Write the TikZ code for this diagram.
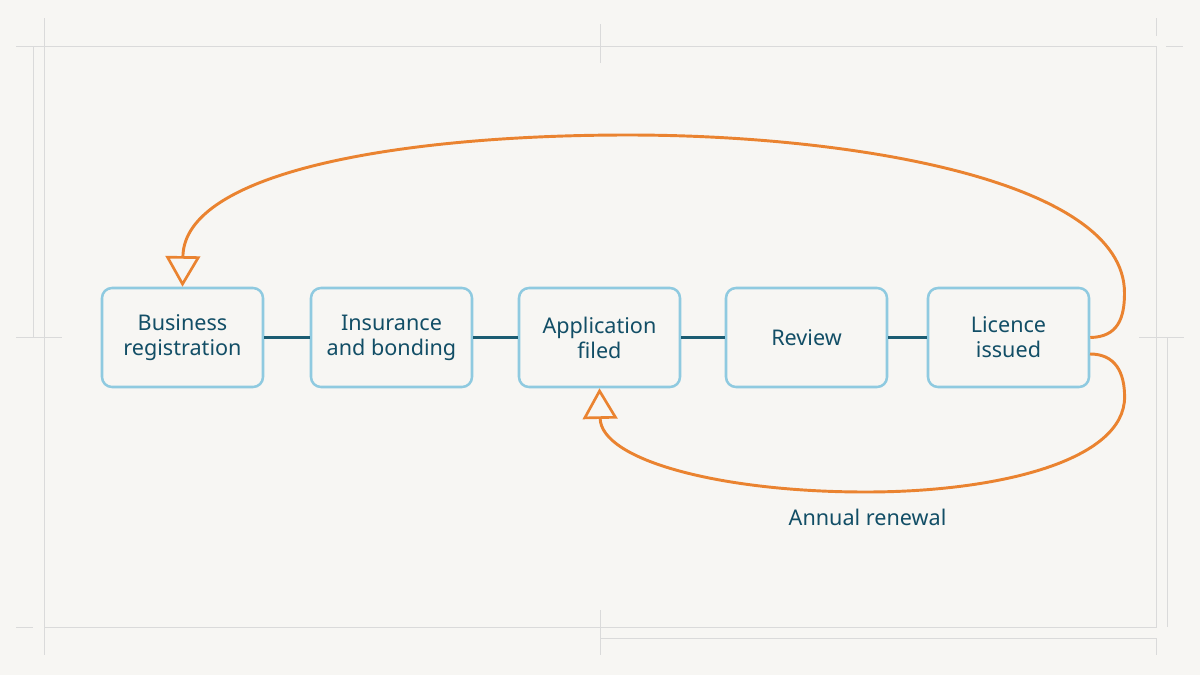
\documentclass[tikz,border=0pt]{standalone}
\usepackage{fontspec}
\setmainfont{Noto Sans}
\usetikzlibrary{arrows.meta}
\definecolor{bgc}{HTML}{F7F6F3}
\definecolor{framec}{HTML}{DADADA}
\definecolor{boxc}{HTML}{8FCAE0}
\definecolor{textc}{HTML}{124E66}
\definecolor{linkc}{HTML}{1B5C72}
\definecolor{orangec}{HTML}{EA8330}
\tikzset{
  stepbox/.style={draw=boxc, line width=1.9pt, rounded corners=7.5pt,
    minimum width=120.75pt, minimum height=74.25pt, align=center,
    text=textc, font=\fontsize{16.2}{18.8}\selectfont, inner sep=0pt},
  link/.style={draw=linkc, line width=2.2pt},
  loop/.style={draw=orangec, line width=2.2pt,
    -{Triangle[open, length=23pt, width=26pt, line width=2pt]}},
  framel/.style={draw=framec, line width=0.75pt},
  lbl/.style={text=textc, font=\fontsize{16.2}{18.8}\selectfont, inner sep=0pt}
}
\begin{document}
\begin{tikzpicture}[x=0.75pt, y=-0.75pt]
\fill[bgc] (0,0) rectangle (1200,675);
\useasboundingbox (0,0) rectangle (1200,675);
% frame
\draw[framel] (44,46) rectangle (1156,627);
\draw[framel] (16,46) -- (44,46);
\draw[framel] (1166,46) -- (1183,46);
\draw[framel] (44,18) -- (44,46);
\draw[framel] (44,627) -- (44,655);
\draw[framel] (16,627) -- (33,627);
\draw[framel] (1156,18) -- (1156,36);
\draw[framel] (33,46) -- (33,337);
\draw[framel] (16,337) -- (62,337);
\draw[framel] (600,24) -- (600,63);
\draw[framel] (600,610) -- (600,655);
\draw[framel] (600,638) -- (1156,638) -- (1156,655);
\draw[framel] (1167,337) -- (1167,627);
\draw[framel] (1139,337) -- (1184,337);
% boxes
\node[stepbox] (b1) at (182.5,337.5) {Business\\registration};
\node[stepbox] (b2) at (391.5,337.5) {Insurance\\and bonding};
\node[stepbox] (b3) at (599.5,337.5) {Application\\filed};
\node[stepbox] (b4) at (806.5,337.5) {Review};
\node[stepbox] (b5) at (1008.5,337.5) {Licence\\issued};
\draw[link] (b1) -- (b2);
\draw[link] (b2) -- (b3);
\draw[link] (b3) -- (b4);
\draw[link] (b4) -- (b5);
% loops
\coordinate (t1) at (1124.5,293);
\coordinate (t2) at (628,135);
\coordinate (s2) at (1090,354);
\coordinate (u1) at (1124.6,397);
\coordinate (u2) at (865.7,492);
\draw[loop] (b5.east) .. controls (1118,337) and (1124.5,318) .. (t1)
  .. controls (1124.5,180) and (850,135) .. (t2)
  .. controls (400,135) and (184,172) .. (b1.north);
\draw[loop] (s2) .. controls (1115,354) and (1124.6,372) .. (u1)
  .. controls (1124.6,460) and (1000,492) .. (u2)
  .. controls (720,492) and (601,460) .. (b3.south);
\node[lbl] (rl) at (867.5,517) {Annual renewal};
\end{tikzpicture}
\end{document}
